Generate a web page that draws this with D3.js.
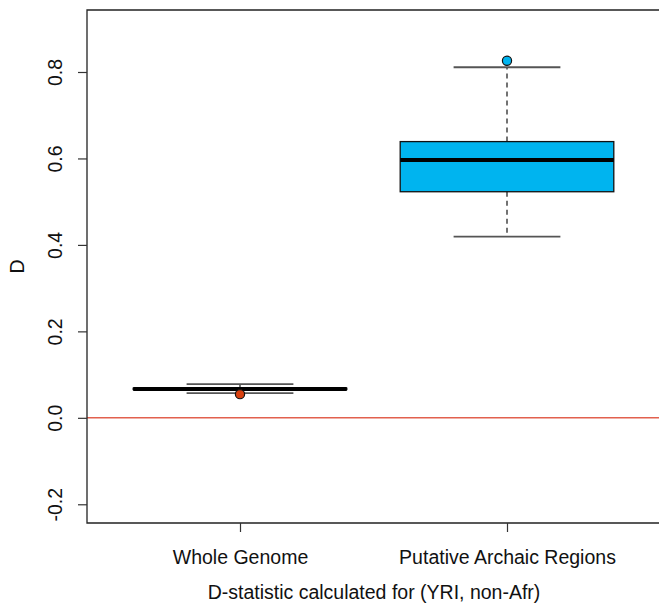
<!DOCTYPE html>
<html>
<head>
<meta charset="utf-8">
<script src="https://cdn.jsdelivr.net/npm/d3@7/dist/d3.min.js"></script>
<style>
  html, body { margin: 0; padding: 0; background: #fff; }
  svg { display: block; font-family: "Liberation Sans", Arial, Helvetica, sans-serif; }
</style>
</head>
<body>
<svg id="chart" width="659" height="604"></svg>
<script>
// Groups and their box-plot summaries (D statistic)
const categories = ["Whole Genome", "Putative Archaic Regions"];
const lowerWhisker = [0.0571, 0.419];
const q1 = [0.0655, 0.523];
const median = [0.0664, 0.5965];
const q3 = [0.0685, 0.639];
const upperWhisker = [0.0779, 0.811];
const outliers = [[0.0548], [0.826]];
const fills = ["#000000", "#00b4ef"];
const outlierFills = ["#d8400f", "#00b4ef"];
const yTicks = [-0.2, 0, 0.2, 0.4, 0.6, 0.8];

const svg = d3.select("#chart");
const frame = { left: 87, right: 664, top: 10, bottom: 523 };
const fontSize = 19.5;

const x = d3.scaleLinear().domain([0.427, 2.588]).range([frame.left, frame.right]);
const y = d3.scaleLinear().domain([-0.2433, 0.9434]).range([frame.bottom, frame.top]);

const boxHalf = x(1.4) - x(1);
const capHalf = boxHalf / 2;

// Reference line at D = 0
svg.append("line")
  .attr("x1", frame.left).attr("x2", frame.right)
  .attr("y1", y(0)).attr("y2", y(0))
  .attr("stroke", "#e2604e").attr("stroke-width", 1.6);

categories.forEach((c, i) => {
  const cx = x(i + 1);
  const g = svg.append("g");
  // whiskers
  g.append("line").attr("x1", cx).attr("x2", cx)
    .attr("y1", y(q3[i])).attr("y2", y(upperWhisker[i]))
    .attr("stroke", "#444").attr("stroke-width", 1.5).attr("stroke-dasharray", "5,4");
  g.append("line").attr("x1", cx).attr("x2", cx)
    .attr("y1", y(q1[i])).attr("y2", y(lowerWhisker[i]))
    .attr("stroke", "#444").attr("stroke-width", 1.5).attr("stroke-dasharray", "5,4");
  // whisker caps
  [lowerWhisker[i], upperWhisker[i]].forEach(v => {
    g.append("line").attr("x1", cx - capHalf).attr("x2", cx + capHalf)
      .attr("y1", y(v)).attr("y2", y(v))
      .attr("stroke", "#555").attr("stroke-width", 1.8);
  });
  // box
  g.append("rect")
    .attr("x", cx - boxHalf).attr("width", 2 * boxHalf)
    .attr("y", y(q3[i])).attr("height", Math.max(0.5, y(q1[i]) - y(q3[i])))
    .attr("fill", fills[i]).attr("stroke", "#111").attr("stroke-width", 1.3);
  // median
  g.append("line").attr("x1", cx - boxHalf).attr("x2", cx + boxHalf)
    .attr("y1", y(median[i])).attr("y2", y(median[i]))
    .attr("stroke", "#000").attr("stroke-width", 4);
  // outliers
  outliers[i].forEach(v => {
    g.append("circle").attr("cx", cx).attr("cy", y(v)).attr("r", 4.6)
      .attr("fill", outlierFills[i]).attr("stroke", "#111").attr("stroke-width", 1.2);
  });
});

// Plot frame (right side runs past the page edge)
svg.append("path")
  .attr("d", `M${frame.right},${frame.top}H${frame.left}V${frame.bottom}H${frame.right}`)
  .attr("fill", "none").attr("stroke", "#222").attr("stroke-width", 1.3);

// Y axis (plain hyphen for negatives)
const yAxis = svg.append("g").attr("transform", `translate(${frame.left},0)`)
  .call(d3.axisLeft(y).tickValues(yTicks).tickSize(9)
    .tickFormat(d => d.toFixed(1)));
yAxis.select(".domain").remove();
yAxis.selectAll(".tick line").attr("stroke", "#333").attr("stroke-width", 1.2);
yAxis.selectAll(".tick text")
  .attr("font-size", fontSize).attr("fill", "#111")
  .attr("transform", "rotate(-90)")
  .attr("x", 0).attr("y", -32).attr("dy", "0.35em")
  .attr("text-anchor", "middle");

// X axis
const xAxis = svg.append("g").attr("transform", `translate(0,${frame.bottom})`)
  .call(d3.axisBottom(x).tickValues([1, 2]).tickSize(9).tickFormat(d => categories[d - 1]));
xAxis.select(".domain").remove();
xAxis.selectAll(".tick line").attr("stroke", "#333").attr("stroke-width", 1.2);
xAxis.selectAll(".tick text")
  .attr("font-size", fontSize).attr("fill", "#111").attr("y", 34).attr("dy", "0.35em");

// Axis titles
svg.append("text").attr("x", 374).attr("y", 592).attr("dy", "0.35em")
  .attr("text-anchor", "middle").attr("font-size", fontSize).attr("fill", "#111")
  .text("D-statistic calculated for (YRI, non-Afr)");
svg.append("text").attr("transform", `translate(17,${y(0.35)}) rotate(-90)`)
  .attr("dy", "0.35em").attr("text-anchor", "middle").attr("font-size", fontSize).attr("fill", "#111")
  .text("D");
</script>
</body>
</html>
